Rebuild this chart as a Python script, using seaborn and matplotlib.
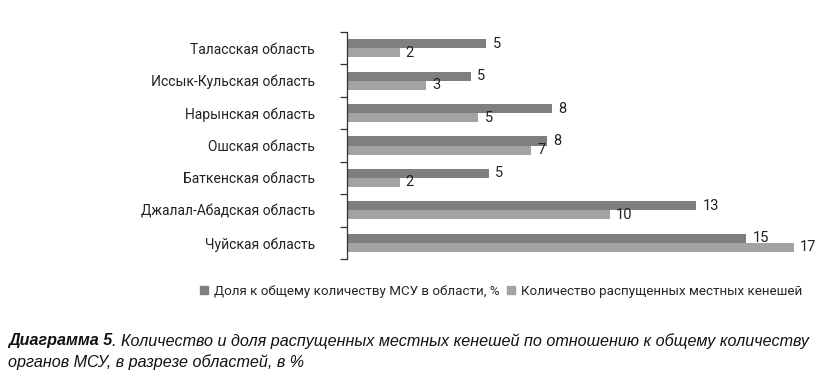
import matplotlib
matplotlib.use("Agg")
import matplotlib.pyplot as plt
import pandas as pd
import numpy as np
import seaborn as sns

sns.set_theme(style="white")
plt.rcParams["font.family"] = ["Roboto", "DejaVu Sans"]

regions = ["Таласская область", "Иссык-Кульская область", "Нарынская область",
           "Ошская область", "Баткенская область", "Джалал-Абадская область",
           "Чуйская область"]
share_pct = [5.3, 4.7, 7.8, 7.6, 5.4, 13.3, 15.2]
dissolved = [2, 3, 5, 7, 2, 10, 17]
series_names = ["Доля к общему количеству МСУ в области, %",
                "Количество распущенных местных кенешей"]
colors = ["#7f7f7f", "#a3a3a3"]

df = pd.DataFrame({
    "region": regions * 2,
    "value": share_pct + dissolved,
    "series": [series_names[0]] * len(regions) + [series_names[1]] * len(regions),
})

fig = plt.figure(figsize=(8.24, 3.76), dpi=100)
ax = fig.add_axes([347 / 824, 1 - 259 / 376, 473 / 824, 227 / 376])

sns.barplot(data=df, y="region", x="value", hue="series", hue_order=series_names,
            palette=colors, orient="h", width=0.56, saturation=1, linewidth=0,
            ax=ax, legend=False)

ax.set_xlim(0, 18)
ax.set_ylim(len(regions) - 0.5, -0.5)
ax.set_xlabel("")
ax.set_ylabel("")
ax.set_xticks([])
for s in ["top", "right", "bottom"]:
    ax.spines[s].set_visible(False)
ax.spines["left"].set_color("#333333")
ax.spines["left"].set_linewidth(0.9)

ax.set_yticks(range(len(regions)))
ax.set_yticklabels(regions, fontsize=10, color="#222222")
ax.tick_params(axis="y", which="major", length=0, pad=23)
ax.set_yticks(np.arange(-0.5, len(regions)), minor=True)
ax.tick_params(axis="y", which="minor", left=True, length=5, width=0.9, color="#333333")

for cont, vals in zip(ax.containers, [share_pct, dissolved]):
    ax.bar_label(cont, labels=[f"{v:.0f}" for v in vals], padding=4.5,
                 fontsize=10.5, color="#222222")

handles = [plt.Rectangle((0, 0), 1, 1, color=c) for c in colors]
fig.legend(handles, series_names, loc="center", bbox_to_anchor=(0.608, 1 - 291 / 376),
           ncol=2, frameon=False, fontsize=9.6, handlelength=0.6, handleheight=0.6,
           handletextpad=0.4, columnspacing=0.6)

cap_family = ["Liberation Sans", "DejaVu Sans"]
cap_size = 11.6
t1 = fig.text(8 / 824, 1 - 341 / 376, "Диаграмма 5", fontsize=cap_size, fontweight="bold",
              fontstyle="italic", family=cap_family, va="center", color="#111111")
fig.canvas.draw()
bb = t1.get_window_extent(fig.canvas.get_renderer())
fig.text(bb.x1 / 824, 1 - 341 / 376,
         ". Количество и доля распущенных местных кенешей по отношению к общему количеству",
         fontsize=cap_size, fontstyle="italic", family=cap_family, va="center", color="#111111")
fig.text(8 / 824, 1 - 362 / 376, "органов МСУ, в разрезе областей, в %",
         fontsize=cap_size, fontstyle="italic", family=cap_family, va="center", color="#111111")

fig.savefig("out.png", dpi=100)
